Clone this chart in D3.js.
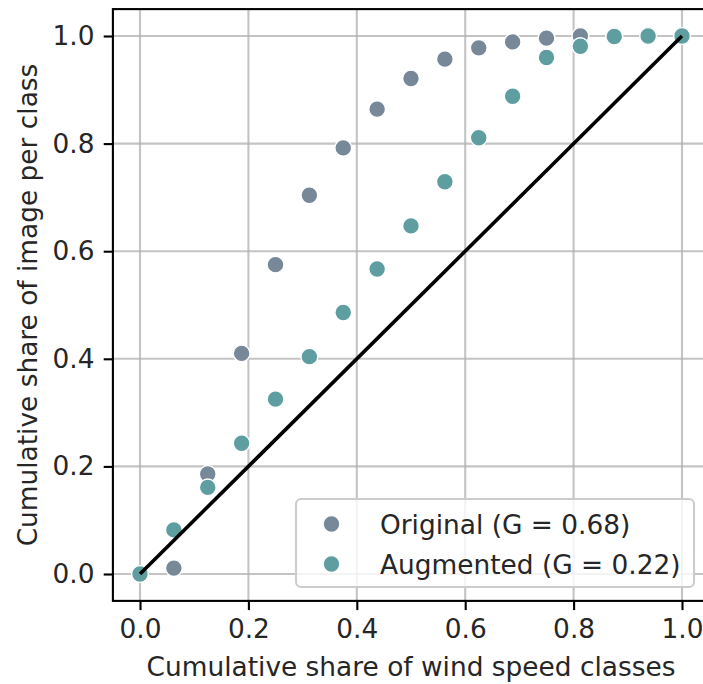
<!DOCTYPE html>
<html>
<head>
<meta charset="utf-8">
<script src="https://cdn.jsdelivr.net/npm/d3@7"></script>
<style>
  html, body { margin: 0; padding: 0; background: #fff; }
  svg { display: block; font-family: "DejaVu Sans", sans-serif; }
</style>
</head>
<body>
<svg id="chart" width="703" height="684"></svg>
<script>
// Cumulative share of wind speed classes (17 steps, 0 .. 1)
const classShare = [0, 0.0625, 0.125, 0.1875, 0.25, 0.3125, 0.375, 0.4375, 0.5,
                    0.5625, 0.625, 0.6875, 0.75, 0.8125, 0.875, 0.9375, 1.0];
// Cumulative share of images per class
const originalShare = [0, 0.011, 0.186, 0.410, 0.575, 0.704, 0.792, 0.864, 0.921,
                       0.957, 0.978, 0.989, 0.996, 1.0, 1.0, 1.0, 1.0];
const augmentedShare = [0, 0.082, 0.161, 0.243, 0.325, 0.404, 0.486, 0.567, 0.647,
                        0.729, 0.811, 0.888, 0.960, 0.981, 0.999, 1.0, 1.0];
const seriesNames = ["Original (G = 0.68)", "Augmented (G = 0.22)"];
const seriesColors = ["#778899", "#5f9ea0"];
const tickValues = [0, 0.2, 0.4, 0.6, 0.8, 1.0];
const xLabel = "Cumulative share of wind speed classes";
const yLabel = "Cumulative share of image per class";

const fontSize = 26.4;
const svg = d3.select("#chart");

const x = d3.scaleLinear().domain([-0.05, 1.05]).range([112.9, 709.1]);
const y = d3.scaleLinear().domain([-0.05, 1.05]).range([600.9, 9.1]);

const plot = svg.append("g");

// grid
plot.append("g").selectAll("line").data(tickValues).join("line")
  .attr("x1", d => x(d)).attr("x2", d => x(d))
  .attr("y1", y.range()[0]).attr("y2", y.range()[1])
  .attr("stroke", "#b0b0b0").attr("stroke-opacity", 0.75).attr("stroke-width", 2.1);
plot.append("g").selectAll("line").data(tickValues).join("line")
  .attr("y1", d => y(d)).attr("y2", d => y(d))
  .attr("x1", x.range()[0]).attr("x2", x.range()[1])
  .attr("stroke", "#b0b0b0").attr("stroke-opacity", 0.75).attr("stroke-width", 2.1);

// points
const series = [originalShare, augmentedShare];
series.forEach((vals, si) => {
  plot.append("g").selectAll("circle").data(vals).join("circle")
    .attr("cx", (d, i) => x(classShare[i]))
    .attr("cy", d => y(d))
    .attr("r", 8.4)
    .attr("fill", seriesColors[si])
    .attr("stroke", "#fff")
    .attr("stroke-width", 1.4);
});

// equality line
plot.append("line")
  .attr("x1", x(0)).attr("y1", y(0)).attr("x2", x(1)).attr("y2", y(1))
  .attr("stroke", "#000").attr("stroke-width", 3.6);

// axes
const fmt = d3.format(".1f");
const xAxis = svg.append("g").attr("transform", `translate(0,${y.range()[0]})`)
  .call(d3.axisBottom(x).tickValues(tickValues).tickFormat(fmt).tickSize(9.2).tickPadding(9.5));
const yAxis = svg.append("g").attr("transform", `translate(${x.range()[0]},0)`)
  .call(d3.axisLeft(y).tickValues(tickValues).tickFormat(fmt).tickSize(9.2).tickPadding(9.2));
[xAxis, yAxis].forEach(g => {
  g.select(".domain").remove();
  g.selectAll(".tick line").attr("stroke", "#000").attr("stroke-width", 2.1);
  g.selectAll(".tick text").attr("font-size", fontSize).attr("fill", "#262626")
    .attr("font-family", "DejaVu Sans");
});

// spines
svg.append("rect")
  .attr("x", x.range()[0]).attr("y", y.range()[1])
  .attr("width", x.range()[1] - x.range()[0]).attr("height", y.range()[0] - y.range()[1])
  .attr("fill", "none").attr("stroke", "#000").attr("stroke-width", 2.1);

// axis labels
svg.append("text")
  .attr("x", (x.range()[0] + x.range()[1]) / 2).attr("y", 676)
  .attr("text-anchor", "middle").attr("font-size", fontSize).attr("fill", "#262626")
  .text(xLabel);
svg.append("text")
  .attr("transform", `translate(37,${(y.range()[0] + y.range()[1]) / 2}) rotate(-90)`)
  .attr("text-anchor", "middle").attr("font-size", fontSize).attr("fill", "#262626")
  .text(yLabel);

// legend
const legend = svg.append("g");
legend.append("rect")
  .attr("x", 296).attr("y", 499).attr("width", 398).attr("height", 88)
  .attr("rx", 5).attr("fill", "#fff").attr("fill-opacity", 0.8)
  .attr("stroke", "#cccccc").attr("stroke-width", 2.1);
seriesNames.forEach((name, i) => {
  const cy = 524 + i * 40;
  legend.append("circle").attr("cx", 331.5).attr("cy", cy).attr("r", 8.4)
    .attr("fill", seriesColors[i]).attr("stroke", "#fff").attr("stroke-width", 1.4);
  legend.append("text").attr("x", 380).attr("y", cy + 9.5)
    .attr("font-size", fontSize).attr("fill", "#262626").text(name);
});
</script>
</body>
</html>
